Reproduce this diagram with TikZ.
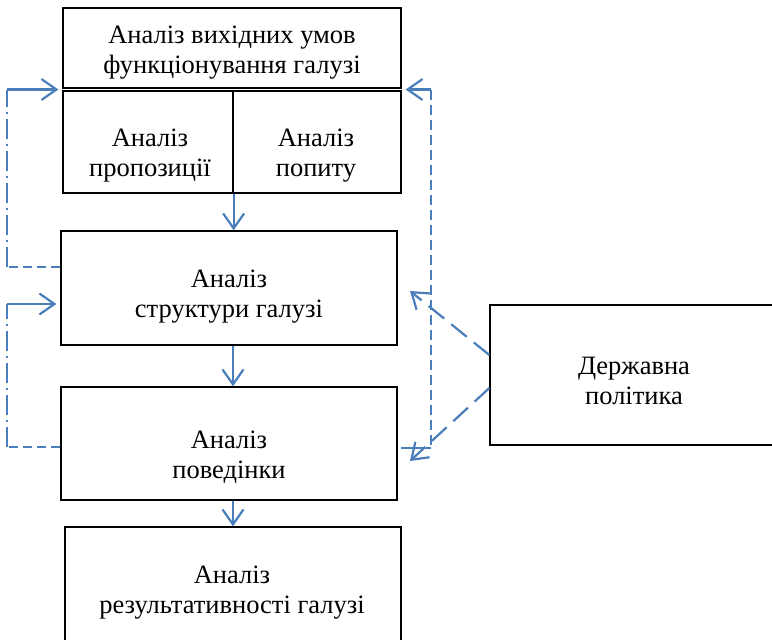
\documentclass[tikz,border=0pt]{standalone}
\usepackage{fontspec}
\setmainfont{Liberation Serif}
\usetikzlibrary{arrows.meta}
\definecolor{linkblue}{RGB}{74,126,187}

\begin{document}
\begin{tikzpicture}[x=1pt,y=-1pt,
    box/.style={draw, line width=1.3pt, inner sep=0pt},
    caption/.style={anchor=base, inner sep=0pt, align=center, font=\fontsize{26.5}{30}\selectfont},
    flow/.style={linkblue, line width=2.2pt, -{Straight Barb[length=15pt,width=21pt,line width=2.2pt]}},
    backdash/.style={linkblue, line width=2pt, dash pattern=on 9pt off 5pt},
    backdot/.style={linkblue, line width=2pt, dash pattern=on 20pt off 5pt on 2pt off 5pt},
    rightdash/.style={linkblue, line width=2pt, dash pattern=on 10pt off 5pt},
    slantdash/.style={dash pattern=on 20pt off 9pt}]
\useasboundingbox (0,0) rectangle (772,640);

    \node[box, minimum width=338pt, minimum height=80pt] (initial) at (232,48) {};
    \node[box, minimum width=170pt, minimum height=102pt] (supply) at (148,142) {};
    \node[box, minimum width=168pt, minimum height=102pt] (demand) at (317,142) {};
    \node[box, minimum width=336pt, minimum height=114pt] (struct) at (229,288) {};
    \node[box, minimum width=336pt, minimum height=113pt] (behav) at (229,443.5) {};
    \node[box, minimum width=336pt, minimum height=120pt] (result) at (233,587) {};
    \node[box, minimum width=290pt, minimum height=140pt] (gov) at (635,375) {};

    \node[caption] (initialtext) at (initial.center |- 0,73) {Аналіз вихідних умов\\функціонування галузі};
    \node[caption] (supplytext) at (150,176) {Аналіз\\пропозиції};
    \node[caption] (demandtext) at (316,176) {Аналіз\\попиту};
    \node[caption] (structtext) at (struct.center |- 0,317) {Аналіз\\структури галузі};
    \node[caption] (behavtext) at (behav.center |- 0,478) {Аналіз\\поведінки};
    \node[caption] (resulttext) at (232,613) {Аналіз\\результативності галузі};
    \node[caption] (govtext) at (634,404) {Державна\\політика};

    \draw[flow](supply.south east)--(supply.south east |- struct.north);
    \draw[flow]([xshift=4pt]struct.south)--([xshift=4pt]struct.south |- behav.north);
    \draw[flow]([xshift=4pt]behav.south)--([xshift=4pt]behav.south |- result.north);

    \coordinate (lb1) at (7,267);
    \coordinate (lt1) at (7,89.5);
    \draw[backdash](struct.west |- lb1)--(lb1);
    \draw[backdot](lb1)--(lt1);
    \draw[flow](lt1)--([xshift=-4pt]lt1 -| initial.west);

    \coordinate (lb2) at (7,447);
    \coordinate (lt2) at (7,304);
    \draw[backdash](behav.west |- lb2)--(lb2);
    \draw[backdot](lb2)--(lt2);
    \draw[flow](lt2)--([xshift=-4pt]lt2 -| struct.west);

    \coordinate (rt) at (431,89.5);
    \coordinate (rb) at (431,448);
    \draw[flow](rt)--([xshift=4pt]rt -| initial.east);
    \draw[rightdash](rt)--(rb);
    \draw[linkblue, line width=1.2pt](rb)--([xshift=3pt]rb -| behav.east);

    \coordinate (pin1) at (410,291);
    \coordinate (pin2) at (410,461);
    \draw[flow, slantdash](gov.west |- 0,355)--(pin1);
    \draw[flow, slantdash](gov.west |- 0,388)--(pin2);
\end{tikzpicture}
\end{document}
